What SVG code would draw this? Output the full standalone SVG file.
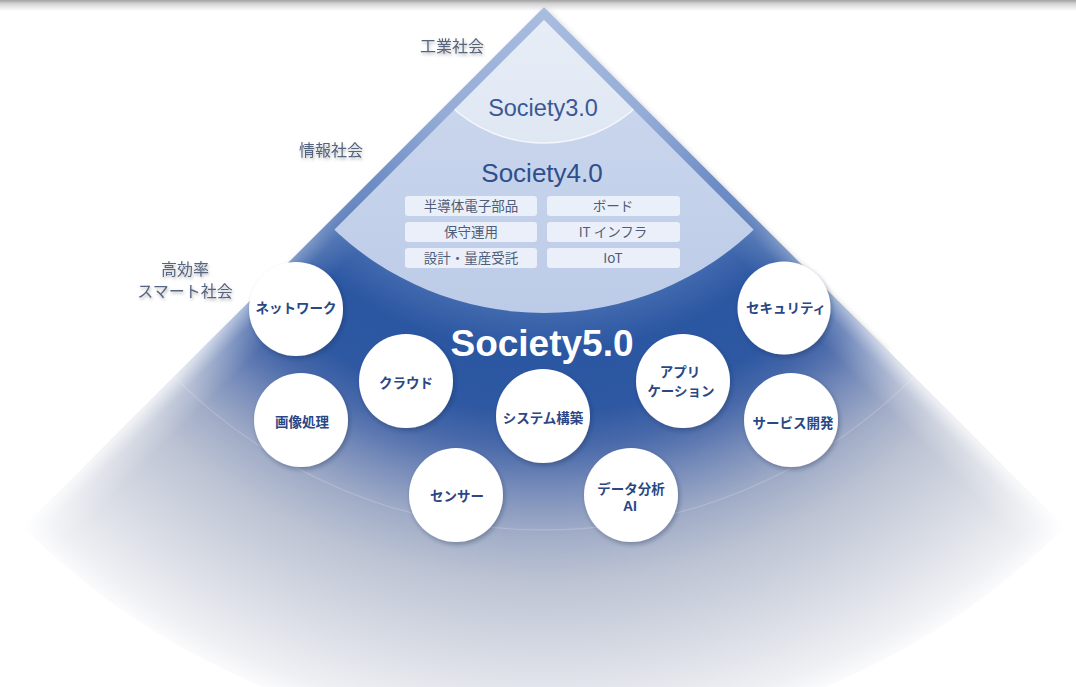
<svg xmlns="http://www.w3.org/2000/svg" width="1076" height="687" viewBox="0 0 1076 687">
<style>
.lbl{font-family:'Noto Sans CJK JP',sans-serif;font-size:16px;fill:#56657f;text-anchor:middle}
.box{fill:#eef2fa;opacity:0.92}
.boxt{font-family:'Noto Sans CJK JP',sans-serif;font-size:13.5px;fill:#4f5d78;text-anchor:middle}
.node{fill:#ffffff}
.nodet{font-family:'Noto Sans CJK JP',sans-serif;font-size:13.5px;font-weight:700;fill:#2a4784;text-anchor:middle}
.soc{font-family:'Liberation Sans',Arial,sans-serif;text-anchor:middle}
</style>
<defs>
<linearGradient id="topband" x1="0" y1="0" x2="0" y2="1">
<stop offset="0" stop-color="#a2a2a2"/>
<stop offset="0.35" stop-color="#d4d4d4"/>
<stop offset="1" stop-color="#ffffff"/>
</linearGradient>
<radialGradient id="main" gradientUnits="userSpaceOnUse" cx="544" cy="7" r="736">
<stop offset="0" stop-color="#a9bde0"/>
<stop offset="0.2" stop-color="#94acd6"/>
<stop offset="0.35" stop-color="#6a89c3"/>
<stop offset="0.42" stop-color="#3f67ad"/>
<stop offset="0.47" stop-color="#2b56a1"/>
<stop offset="0.55" stop-color="#2e58a2"/>
<stop offset="0.6" stop-color="#4a6aaa"/>
<stop offset="0.66" stop-color="#7b8fbb"/>
<stop offset="0.71" stop-color="#9eaac6"/>
<stop offset="0.78" stop-color="#bcc3d3"/>
<stop offset="0.9" stop-color="#dcdfe7"/>
<stop offset="0.97" stop-color="#eff0f4"/>
<stop offset="1" stop-color="#fbfbfc"/>
</radialGradient>
<linearGradient id="edgeL" gradientUnits="userSpaceOnUse" x1="544" y1="7" x2="574" y2="37">
<stop offset="0" stop-color="#ffffff" stop-opacity="0.8"/>
<stop offset="0.4" stop-color="#ffffff" stop-opacity="0.3"/>
<stop offset="1" stop-color="#ffffff" stop-opacity="0"/>
</linearGradient>
<linearGradient id="edgeR" gradientUnits="userSpaceOnUse" x1="544" y1="7" x2="514" y2="37">
<stop offset="0" stop-color="#ffffff" stop-opacity="0.8"/>
<stop offset="0.4" stop-color="#ffffff" stop-opacity="0.3"/>
<stop offset="1" stop-color="#ffffff" stop-opacity="0"/>
</linearGradient>
<radialGradient id="maskg" gradientUnits="userSpaceOnUse" cx="544" cy="7" r="736">
<stop offset="0.34" stop-color="#000"/>
<stop offset="0.45" stop-color="#777"/>
<stop offset="0.72" stop-color="#fff"/>
</radialGradient>
<mask id="edgemask"><rect x="0" y="0" width="1076" height="687" fill="url(#maskg)"/></mask>
<linearGradient id="cap" x1="0" y1="0" x2="0" y2="1">
<stop offset="0" stop-color="#f1f5fb"/>
<stop offset="1" stop-color="#dfe7f3"/>
</linearGradient>
<linearGradient id="r4" gradientUnits="userSpaceOnUse" x1="0" y1="100" x2="0" y2="315">
<stop offset="0" stop-color="#cad6ed"/>
<stop offset="1" stop-color="#bccbe7"/>
</linearGradient>
<clipPath id="inset"><path d="M544,20 L-256,820 L1344,820 Z"/></clipPath>
<filter id="sh" x="-30%" y="-30%" width="160%" height="160%">
<feDropShadow dx="1.5" dy="2.5" stdDeviation="2" flood-color="#1a2a50" flood-opacity="0.35"/>
</filter>
<filter id="tsh" x="-20%" y="-50%" width="140%" height="200%">
<feDropShadow dx="1" dy="2" stdDeviation="1.5" flood-color="#000" flood-opacity="0.28"/>
</filter>
<filter id="tri" x="-10%" y="-10%" width="120%" height="120%">
<feDropShadow dx="2" dy="3" stdDeviation="3" flood-color="#000" flood-opacity="0.22"/>
</filter>
</defs>
<rect x="0" y="0" width="1076" height="687" fill="#ffffff"/>
<rect x="0" y="0" width="1076" height="11" fill="url(#topband)"/>
<g id="pyramid">
<path d="M544,7 L201,350 L887,350 Z" fill="#ffffff" filter="url(#tri)"/>
<path d="M544,7 L23.6,527.4 A736,736 0 0 0 1064.4,527.4 Z" fill="url(#main)"/>
<g mask="url(#edgemask)">
<path d="M544,7 L23.6,527.4 A736,736 0 0 0 1064.4,527.4 Z" fill="url(#edgeL)"/>
<path d="M544,7 L23.6,527.4 A736,736 0 0 0 1064.4,527.4 Z" fill="url(#edgeR)"/>
</g>
<path d="M174.2,376.8 A523,523 0 0 0 913.8,376.8" fill="none" stroke="#ffffff" stroke-opacity="0.18" stroke-width="1.2"/>
</g>
<g id="society4" clip-path="url(#inset)">
<circle cx="544" cy="7" r="306" fill="url(#r4)"/>
</g>
<g id="society3" clip-path="url(#inset)">
<circle cx="544" cy="7" r="136" fill="url(#cap)" stroke="#f4f7fc" stroke-width="1.5"/>
</g>
<g id="titles">
<text class="soc" x="543" y="116" font-size="23.5" fill="#3b5894">Society3.0</text>
<text class="soc" x="542" y="182" font-size="26" fill="#2f4f8c">Society4.0</text>
<text class="soc" x="542" y="356" font-size="37" font-weight="700" fill="#ffffff">Society5.0</text>
</g>
<g id="labels" filter="url(#tsh)">
<text class="lbl" x="452" y="52">工業社会</text>
<text class="lbl" x="331" y="156">情報社会</text>
<text class="lbl" x="185" y="275">高効率</text>
<text class="lbl" x="185" y="297">スマート社会</text>
</g>
<g id="boxes">
<g id="box-semiconductor"><rect class="box" x="405" y="196" width="132" height="20" rx="3"/><text class="boxt" x="471" y="211">半導体電子部品</text></g>
<g id="box-board"><rect class="box" x="547" y="196" width="133" height="20" rx="3"/><text class="boxt" x="613" y="211">ボード</text></g>
<g id="box-maintenance"><rect class="box" x="405" y="222" width="132" height="20" rx="3"/><text class="boxt" x="471" y="237">保守運用</text></g>
<g id="box-itinfra"><rect class="box" x="547" y="222" width="133" height="20" rx="3"/><text class="boxt" x="613" y="237">IT インフラ</text></g>
<g id="box-design"><rect class="box" x="405" y="248" width="132" height="20" rx="3"/><text class="boxt" x="471" y="263">設計・量産受託</text></g>
<g id="box-iot"><rect class="box" x="547" y="248" width="133" height="20" rx="3"/><text class="boxt" x="613" y="263">IoT</text></g>
</g>
<g id="nodes">
<g id="node-network"><circle class="node" cx="296" cy="309" r="47" filter="url(#sh)"/><text class="nodet" x="296" y="313">ネットワーク</text></g>
<g id="node-security"><circle class="node" cx="784" cy="308" r="46.5" filter="url(#sh)"/><text class="nodet" x="786" y="313">セキュリティ</text></g>
<g id="node-image"><circle class="node" cx="301" cy="420" r="47" filter="url(#sh)"/><text class="nodet" x="302" y="427">画像処理</text></g>
<g id="node-cloud"><circle class="node" cx="406" cy="381" r="47" filter="url(#sh)"/><text class="nodet" x="406" y="388">クラウド</text></g>
<g id="node-system"><circle class="node" cx="543" cy="416" r="47" filter="url(#sh)"/><text class="nodet" x="543" y="423">システム構築</text></g>
<g id="node-app"><circle class="node" cx="683" cy="381" r="47" filter="url(#sh)"/><text class="nodet"><tspan x="680" y="377">アプリ</tspan><tspan x="681" y="396">ケーション</tspan></text></g>
<g id="node-service"><circle class="node" cx="791" cy="420" r="47" filter="url(#sh)"/><text class="nodet" x="793" y="428">サービス開発</text></g>
<g id="node-sensor"><circle class="node" cx="456" cy="495" r="47" filter="url(#sh)"/><text class="nodet" x="457" y="501">センサー</text></g>
<g id="node-data"><circle class="node" cx="631" cy="495" r="47" filter="url(#sh)"/><text class="nodet"><tspan x="631" y="494">データ分析</tspan><tspan x="630" y="511" font-family="'Liberation Sans',Arial,sans-serif" font-size="14">AI</tspan></text></g>
</g>
</svg>
